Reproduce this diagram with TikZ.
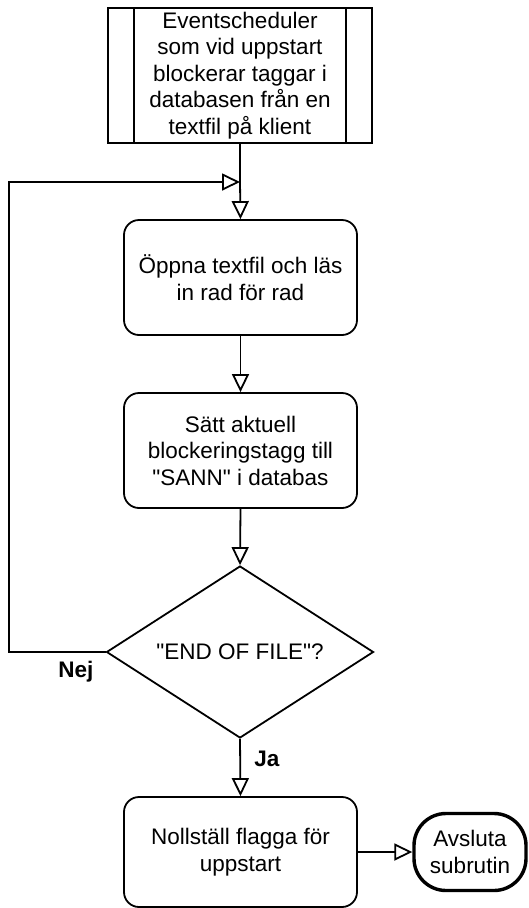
\documentclass[tikz,border=0pt]{standalone}
\usepackage{fontspec}
\setmainfont{Liberation Sans}[Ligatures=TeXOff]
\usetikzlibrary{arrows.meta,shapes.geometric}

\tikzset{
  base/.style={draw=black, line width=1.8pt, fill=white, align=center, inner sep=0pt,
    font=\fontsize{22.5}{26.5}\selectfont},
  procbox/.style={base, rectangle, rounded corners=15pt, minimum width=233pt, minimum height=115pt},
  predef/.style={base, rectangle, minimum width=264pt, minimum height=135pt},
  decision/.style={base, diamond, shape aspect=1.55, minimum width=267pt, minimum height=172pt},
  terminal/.style={base, rectangle, rounded corners=32pt, line width=3.4pt, minimum width=112pt, minimum height=77pt},
  flow/.style={line width=1.8pt, -{Triangle[open, length=18pt, width=17pt]}},
  lbl/.style={font=\fontsize{22.5}{26.5}\selectfont\bfseries, inner sep=0pt}
}

\begin{document}
\begin{tikzpicture}[x=1pt, y=-1pt]
  \useasboundingbox (0,0) rectangle (528,908);

  % predefined process: scheduler on startup
  \node[predef] (top) at (240,75.5) {Eventscheduler\\som vid uppstart\\blockerar taggar i\\databasen från en\\textfil på klient};
  \draw[line width=1.8pt] ([xshift=27pt]top.north west) -- ([xshift=27pt]top.south west);
  \draw[line width=1.8pt] ([xshift=-27pt]top.north east) -- ([xshift=-27pt]top.south east);

  \node[procbox] (open) at (240.5,277.5) {Öppna textfil och läs\\in rad för rad};
  \node[procbox] (set) at (240.5,450.5) {Sätt aktuell\\blockeringstagg till\\"SANN" i databas};
  \node[decision] (eof) at (240,652) {"END OF FILE"?};
  \node[procbox, minimum height=110pt] (reset) at (240.5,852) {Nollställ flagga för\\uppstart};
  \node[terminal] (end) at (470,852) {Avsluta\\subrutin};

  % loop-back junction
  \coordinate (join) at (240,182);
  \coordinate (loop) at (9,182);

  \draw[line width=1.8pt] (top.south) -- (join);
  \draw[flow] (join) -- (open.north);
  \draw[flow] (open.south) -- (set.north);
  \draw[flow] (set.south) -- (eof.north);
  \draw[flow] (eof.west) -| (loop) -- (join);
  \draw[flow] (eof.south) -- (reset.north);
  \draw[flow] (reset.east) -- (end.west);

  \node[lbl] (nej) at (76,672) {Nej};
  \node[lbl] (ja) at (267,759) {Ja};
\end{tikzpicture}
\end{document}
